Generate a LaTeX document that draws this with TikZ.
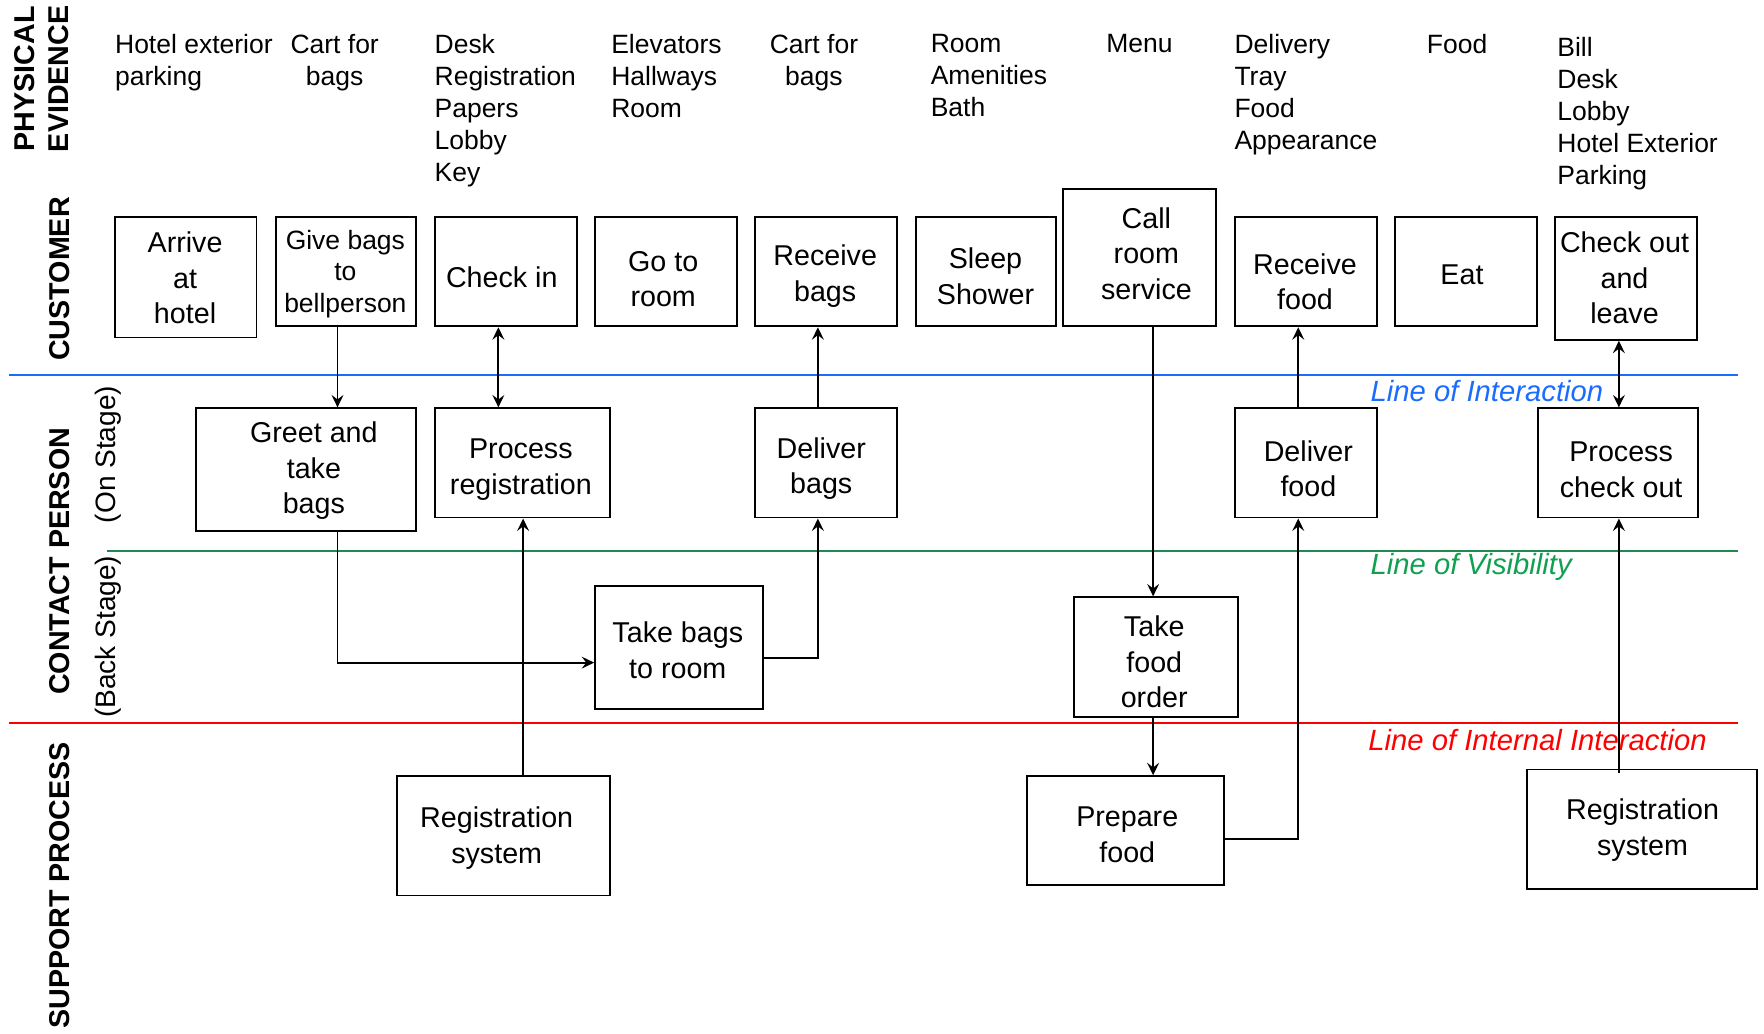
\documentclass[tikz,border=0pt]{standalone}
\usepackage{fontspec}
\setmainfont{Liberation Sans}
\usetikzlibrary{arrows.meta}
\definecolor{lblue}{HTML}{1A6CFF}
\definecolor{lgreen}{HTML}{1E8A50}
\definecolor{tgreen}{HTML}{10A050}
\definecolor{lred}{HTML}{FF0000}
\tikzset{
  box/.style={draw, line width=1pt, inner sep=0pt},
  sz/.style 2 args={minimum width={#1*0.02cm}, minimum height={#2*0.02cm}},
  bt/.style={align=center, inner sep=0pt, font=\fontsize{14.5}{17.9}\selectfont},
  bts/.style={align=center, inner sep=0pt, font=\fontsize{13.4}{15.9}\selectfont},
  ev/.style={inner sep=0pt, anchor=north west, align=left,
    font=\fontsize{13.4}{16.2}\selectfont},
  evc/.style={inner sep=0pt, anchor=north, align=center,
    font=\fontsize{13.4}{16.2}\selectfont},
  lane/.style={rotate=90, inner sep=0pt, align=center,
    font=\bfseries\fontsize{14.5}{17}\selectfont},
  stage/.style={rotate=90, inner sep=0pt, font=\fontsize{14.2}{17}\selectfont},
  conn/.style={line width=1pt},
  tip/.style={},
  arr/.style={conn, -{Stealth[length=0.22cm, width=0.21cm, inset=0.08cm]}},
  darr/.style={conn, {Stealth[length=0.22cm, width=0.21cm, inset=0.08cm]}-{Stealth[length=0.22cm, width=0.21cm, inset=0.08cm]}},
  sep/.style={line width=1.1pt},
  seplbl/.style={inner sep=0pt, anchor=west, font=\itshape\fontsize{14.8}{17}\selectfont},
}
\begin{document}
\begin{tikzpicture}[x=0.02cm, y=-0.02cm]
\useasboundingbox (0,0) rectangle (1568,919);

% lane labels
\node[lane] (lpe) at (37,70) {PHYSICAL\\EVIDENCE};
\node[lane] (lcu) at (53,248) {CUSTOMER};
\node[lane] (lcp) at (53,499) {CONTACT PERSON};
\node[stage] (lon) at (96,404) {(On Stage)};
\node[stage] (lbk) at (96,566) {(Back Stage)};
\node[lane] (lsp) at (53,787) {SUPPORT PROCESS};

% separator lines
\coordinate (bl1) at (8,333);   \coordinate (bl2) at (1545,333);
\coordinate (gl1) at (95,490);  \coordinate (gl2) at (1545,490);
\coordinate (rl1) at (8,643);   \coordinate (rl2) at (1545,643);
\draw[sep, lblue] (bl1) -- (bl2);
\draw[sep, lgreen] (gl1) -- (gl2);
\draw[sep, lred] (rl1) -- (rl2);
\node[seplbl, text=lblue] (tli) at (1218,348) {Line of Interaction};
\node[seplbl, text=tgreen] (tlv) at (1218,504) {Line of Visibility};
\node[seplbl, text=lred] (tlii) at (1216,658) {Line of Internal Interaction};

% physical evidence
\node[ev] (e1) at (102,30) {Hotel exterior\\parking};
\node[evc] (e2) at (297.5,30) {Cart for\\bags};
\node[ev] (e3) at (386,30) {Desk\\Registration\\Papers\\Lobby\\Key};
\node[ev] (e4) at (543,30) {Elevators\\Hallways\\Room};
\node[evc] (e5) at (723.5,30) {Cart for\\bags};
\node[ev] (e6) at (827,30) {Room\\Amenities\\Bath};
\node[ev] (e7) at (983,30) {Menu};
\node[ev] (e8) at (1097,30) {Delivery\\Tray\\Food\\Appearance};
\node[ev] (e9) at (1268,30) {Food};
\node[ev] (e10) at (1384,33) {Bill\\Desk\\Lobby\\Hotel Exterior\\Parking};

% customer boxes
\node[box, sz={126}{107}] (arrive) at (165,246.5) {};
\node[box, sz={125}{97}] (give) at (307.5,241.5) {};
\node[box, sz={126}{97}] (checkin) at (450,241.5) {};
\node[box, sz={126}{97}] (goto) at (592,241.5) {};
\node[box, sz={126}{97}] (recvbags) at (734,241.5) {};
\node[box, sz={125}{97}] (sleep) at (876.5,241.5) {};
\node[box, sz={136}{122}] (call) at (1013,229) {};
\node[box, sz={126}{97}] (recvfood) at (1161,241.5) {};
\node[box, sz={126}{97}] (eat) at (1303,241.5) {};
\node[box, sz={126}{109}] (checkout) at (1445,247.5) {};
\node[bt] (arrive-t) at (164.5,247) {Arrive\\at\\hotel};
\node[bts] (give-t) at (307,243.5) {Give bags\\to\\bellperson};
\node[bt] (checkin-t) at (446,246.5) {Check in};
\node[bt] (goto-t) at (589.5,248) {Go to\\room};
\node[bt] (recvbags-t) at (733.5,245.5) {Receive\\bags};
\node[bt] (sleep-t) at (876,245.5) {Sleep\\Shower};
\node[bt] (call-t) at (1019,225.5) {Call\\room\\service};
\node[bt] (recvfood-t) at (1160,250.5) {Receive\\food};
\node[bt] (eat-t) at (1299.5,244.5) {Eat};
\node[bt] (checkout-t) at (1444,247) {Check out\\and\\leave};

% contact person boxes
\node[box, sz={196}{109}] (greet) at (272,417.5) {};
\node[box, sz={155}{97}] (procreg) at (464.5,411.5) {};
\node[box, sz={126}{97}] (delbags) at (734,411.5) {};
\node[box, sz={126}{97}] (delfood) at (1161,411.5) {};
\node[box, sz={142}{97}] (proccheck) at (1438,411.5) {};
\node[box, sz={149}{109}] (takebags) at (603.5,575.5) {};
\node[box, sz={145}{106}] (takefood) at (1027.5,584) {};
\node[bt] (greet-t) at (279,418.5) {Greet and\\take\\bags};
\node[bt] (procreg-t) at (463,417.5) {Process\\registration};
\node[bt] (delbags-t) at (730,416.5) {Deliver\\bags};
\node[bt] (delfood-t) at (1163,416.5) {Deliver\\food};
\node[bt] (proccheck-t) at (1441,417.5) {Process\\check out};
\node[bt] (takebags-t) at (602.5,578) {Take bags\\to room};
\node[bt] (takefood-t) at (1026,588.5) {Take\\food\\order};

% support boxes
\node[box, sz={189}{106}] (regsys1) at (447.5,743) {};
\node[box, sz={175}{97}] (prepfood) at (1000.5,738.5) {};
\node[box, sz={205}{106}] (regsys2) at (1459.5,737) {};
\node[bt] (regsys1-t) at (441.5,745) {Registration\\system};
\node[bt] (prepfood-t) at (1002,742) {Prepare\\food};
\node[bt] (regsys2-t) at (1460,738) {Registration\\system};

% guide coordinates
\coordinate (x300) at (300,0);
\coordinate (x443) at (443,0);
\coordinate (x465) at (465,0);
\coordinate (x727) at (727,0);
\coordinate (x1025) at (1025,0);
\coordinate (x1154) at (1154,0);
\coordinate (x1439) at (1439,0);
\coordinate (y589) at (0,589);
\coordinate (y585) at (0,585);
\coordinate (y746) at (0,746);

% connectors
\draw[arr] (give.south -| x300) -- (greet.north -| x300);
\draw[darr] (checkin.south -| x443) -- (procreg.north -| x443);
\draw[arr] (delbags.north -| x727) -- (recvbags.south -| x727);
\draw[arr] (call.south -| x1025) -- (takefood.north -| x1025);
\draw[arr] (delfood.north -| x1154) -- (recvfood.south -| x1154);
\draw[darr] (checkout.south -| x1439) -- (proccheck.north -| x1439);
\draw[arr] (greet.south -| x300) -- (x300 |- y589) -- (takebags.west |- y589);
\draw[arr] (takebags.east |- y585) -- (x727 |- y585) -- (delbags.south -| x727);
\draw[arr] (regsys1.north -| x465) -- (procreg.south -| x465);
\draw[arr] (takefood.south -| x1025) -- (prepfood.north -| x1025);
\draw[arr] (prepfood.east |- y746) -- (x1154 |- y746) -- (delfood.south -| x1154);
\draw[arr] ([yshift=-0.08cm]regsys2.north -| x1439) -- (proccheck.south -| x1439);
\end{tikzpicture}
\end{document}
